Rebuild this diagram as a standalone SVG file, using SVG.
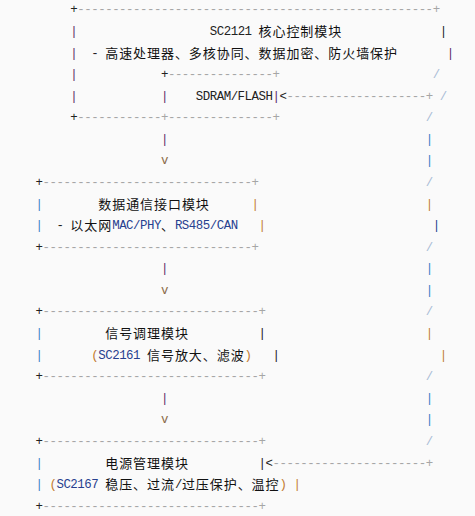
<svg xmlns="http://www.w3.org/2000/svg" width="475" height="516" viewBox="0 0 475 516">
<style>
text{font-family:"Liberation Mono","DejaVu Sans Mono",monospace;font-size:12.4px;letter-spacing:-0.47px;fill:#222}
.c{font-family:"Noto Sans CJK SC","Noto Sans CJK JP",sans-serif;font-size:13px;letter-spacing:0.94px;fill:#111}
.g{fill:#a6a6a6}
.p{fill:#5e2a68}
.s{fill:#a9bcd6}
.b{fill:#3b82c6}
.o{fill:#c27a30}
.n{fill:#27408f}
.v{fill:#8a6a48}
.k{fill:#222}
</style>
<rect width="475" height="516" fill="#fafafa"/>

<g id="node-core">
  <text x="70.37" y="13.3">+</text>
  <text class="g" x="77.34" y="13.3">---------------------------------------------------</text>
  <text class="g" x="432.81" y="13.3">+</text>
  <text class="p" x="70.37" y="34.9">|</text>
  <text x="209.77" y="34.9">SC2121</text>
  <text class="c" x="258.56" y="35.9">核心控制模块</text>
  <text class="k" x="439.78" y="34.9">|</text>
  <text class="p" x="70.37" y="56.5">|</text>
  <text x="91.28" y="56.5">-</text>
  <text class="c" x="105.22" y="57.5">高速处理器、多核协同、数据加密、防火墙保护</text>
  <text class="p" x="446.75" y="56.5">|</text>
  <text class="p" x="70.37" y="78.0">|</text>
  <text class="p" x="70.37" y="99.6">|</text>
  <text x="70.37" y="121.2">+</text>
  <text class="g" x="77.34" y="121.2">------------</text>
</g>

<g id="node-memory">
  <text x="160.98" y="78.0">+</text>
  <text class="g" x="167.95" y="78.0">---------------</text>
  <text class="g" x="272.50" y="78.0">+</text>
  <text class="p" x="160.98" y="99.6">|</text>
  <text x="195.83" y="99.6">SDRAM/FLASH</text>
  <text class="p" x="272.50" y="99.6">|</text>
  <text class="g" x="160.98" y="121.2">+</text>
  <text class="g" x="167.95" y="121.2">---------------</text>
  <text class="g" x="272.50" y="121.2">+</text>
</g>

<g id="node-comm">
  <text x="35.52" y="185.9">+</text>
  <text class="g" x="42.49" y="185.9">------------------------------</text>
  <text class="g" x="251.59" y="185.9">+</text>
  <text class="b" x="35.52" y="207.5">|</text>
  <text class="c" x="98.25" y="208.5">数据通信接口模块</text>
  <text class="o" x="251.59" y="207.5">|</text>
  <text class="b" x="35.52" y="229.1">|</text>
  <text x="56.43" y="229.1">-</text>
  <text class="c" x="70.37" y="230.1">以太网</text>
  <text class="n" x="112.19" y="229.1">MAC/PHY</text>
  <text class="c" x="160.98" y="230.1">、</text>
  <text class="n" x="174.92" y="229.1">RS485/CAN</text>
  <text class="o" x="258.56" y="229.1">|</text>
  <text x="35.52" y="250.7">+</text>
  <text class="g" x="42.49" y="250.7">------------------------------</text>
  <text class="g" x="251.59" y="250.7">+</text>
</g>

<g id="node-signal">
  <text x="35.52" y="315.4">+</text>
  <text class="g" x="42.49" y="315.4">-------------------------------</text>
  <text class="g" x="258.56" y="315.4">+</text>
  <text class="b" x="35.52" y="337.0">|</text>
  <text class="c" x="105.22" y="338.0">信号调理模块</text>
  <text class="k" x="258.56" y="337.0">|</text>
  <text class="b" x="35.52" y="358.6">|</text>
  <text class="o" x="91.28" y="358.6">(</text>
  <text class="n" x="98.25" y="358.6">SC2161</text>
  <text class="c" x="147.04" y="359.6">信号放大、滤波</text>
  <text class="o" x="244.62" y="358.6">)</text>
  <text class="k" x="272.50" y="358.6">|</text>
  <text x="35.52" y="380.2">+</text>
  <text class="g" x="42.49" y="380.2">-------------------------------</text>
  <text class="g" x="258.56" y="380.2">+</text>
</g>

<g id="node-power">
  <text x="35.52" y="444.9">+</text>
  <text class="g" x="42.49" y="444.9">-------------------------------</text>
  <text class="g" x="258.56" y="444.9">+</text>
  <text class="b" x="35.52" y="466.5">|</text>
  <text class="c" x="105.22" y="467.5">电源管理模块</text>
  <text class="k" x="258.56" y="466.5">|</text>
  <text class="b" x="35.52" y="488.1">|</text>
  <text class="o" x="49.46" y="488.1">(</text>
  <text class="n" x="56.43" y="488.1">SC2167</text>
  <text class="c" x="105.22" y="489.1">稳压、过流</text>
  <text class="k" x="174.92" y="488.1">/</text>
  <text class="c" x="181.89" y="489.1">过压保护、温控</text>
  <text class="o" x="279.47" y="488.1">)</text>
  <text class="o" x="293.41" y="488.1">|</text>
  <text x="35.52" y="509.6">+</text>
  <text class="g" x="42.49" y="509.6">-------------------------------</text>
  <text class="g" x="258.56" y="509.6">+</text>
</g>

<g id="connectors">
  <text class="p" x="160.98" y="142.8">|</text>
  <text class="v" x="160.98" y="164.4">v</text>
  <text class="p" x="160.98" y="272.3">|</text>
  <text class="v" x="160.98" y="293.8">v</text>
  <text class="p" x="160.98" y="401.7">|</text>
  <text class="v" x="160.98" y="423.3">v</text>

  <text class="k" x="279.47" y="99.6">&lt;</text>
  <text class="g" x="286.44" y="99.6">--------------------</text>
  <text class="g" x="425.84" y="99.6">+</text>
  <text class="s" x="432.81" y="78.0">/</text>
  <text class="s" x="439.78" y="99.6">/</text>
  <text class="s" x="425.84" y="121.2">/</text>
  <text class="b" x="425.84" y="142.8">|</text>
  <text class="b" x="425.84" y="164.4">|</text>
  <text class="s" x="425.84" y="185.9">/</text>
  <text class="o" x="425.84" y="207.5">|</text>
  <text class="n" x="432.81" y="229.1">|</text>
  <text class="s" x="425.84" y="250.7">/</text>
  <text class="b" x="425.84" y="272.3">|</text>
  <text class="b" x="425.84" y="293.8">|</text>
  <text class="s" x="425.84" y="315.4">/</text>
  <text class="o" x="425.84" y="337.0">|</text>
  <text class="o" x="439.78" y="358.6">|</text>
  <text class="s" x="425.84" y="380.2">/</text>
  <text class="b" x="425.84" y="401.7">|</text>
  <text class="b" x="425.84" y="423.3">|</text>
  <text class="s" x="425.84" y="444.9">/</text>
  <text class="k" x="265.53" y="466.5">&lt;</text>
  <text class="g" x="272.50" y="466.5">----------------------</text>
  <text class="g" x="425.84" y="466.5">+</text>
</g>
</svg>
